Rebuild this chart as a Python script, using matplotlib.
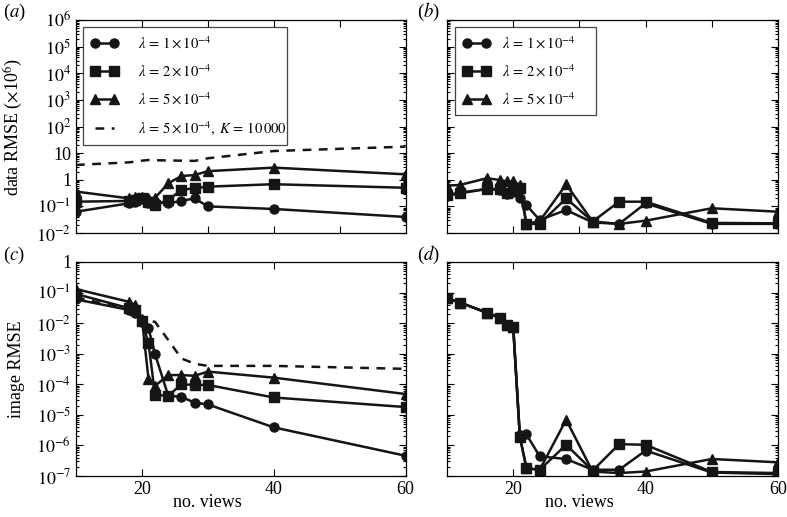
import matplotlib
matplotlib.use('Agg')
import matplotlib.pyplot as plt
import numpy as np
from matplotlib.ticker import LogLocator, FuncFormatter, NullFormatter, FixedLocator

plt.rcParams['font.family'] = ['Liberation Serif', 'DejaVu Serif']
plt.rcParams['mathtext.fontset'] = 'stix'

# ---- data ----
views_ac = [10, 18, 19, 20, 21, 22, 24, 26, 28, 30, 40, 60]
views_bd = [10, 12, 16, 18, 19, 20, 21, 22, 24, 28, 32, 36, 40, 50, 60]

# (a) data RMSE (x1e6)
a_lam1 = [0.063, 0.13, 0.15, 0.19, 0.13, 0.15, 0.13, 0.16, 0.2, 0.1, 0.08, 0.04]
a_lam2 = [0.15, 0.16, 0.17, 0.2, 0.15, 0.11, 0.17, 0.42, 0.48, 0.55, 0.68, 0.5]
a_lam5 = [0.36, 0.2, 0.23, 0.23, 0.2, 0.21, 0.74, 1.38, 1.5, 2.1, 2.85, 1.6]
a_lam5K = [3.6, 4.5, 4.8, 5.2, 5.5, 5.4, 5.3, 5.2, 5.1, 6.4, 12, 17.5]

# (b) data RMSE (x1e6)
b_lam1 = [0.25, 0.31, 0.45, 0.4, 0.3, 0.36, 0.2, 0.11, 0.031, 0.073, 0.025, 0.022, 0.13, 0.022, 0.022]
b_lam2 = [0.27, 0.33, 0.45, 0.45, 0.31, 0.42, 0.48, 0.022, 0.022, 0.2, 0.027, 0.15, 0.15, 0.024, 0.023]
b_lam5 = [0.6, 0.64, 1.14, 0.98, 0.86, 0.86, 0.64, 0.022, 0.028, 0.67, 0.027, 0.022, 0.029, 0.085, 0.063]

# (c) image RMSE
c_lam1 = [0.06, 0.027, 0.021, 0.011, 0.0068, 0.00096, 4.2e-5, 3.9e-5, 2.5e-5, 2.2e-5, 3.9e-6, 4.6e-7]
c_lam2 = [0.09, 0.031, 0.027, 0.012, 0.0022, 4.5e-5, 4.2e-5, 1e-4, 9.5e-5, 9.5e-5, 3.7e-5, 1.8e-5]
c_lam5 = [0.13, 0.05, 0.039, 0.014, 0.00015, 8.9e-5, 2e-4, 2e-4, 1.9e-4, 2.6e-4, 1.65e-4, 4.8e-5]
c_lam5K = [0.07, 0.028, 0.022, 0.015, 0.012, 0.011, 0.0028, 0.0007, 4.7e-4, 4e-4, 4e-4, 3.2e-4]

# (d) image RMSE
d_lam1 = [0.065, 0.047, 0.022, 0.015, 0.0087, 0.0077, 2.2e-6, 2.3e-6, 4.4e-7, 3.6e-7, 1.6e-7, 1.6e-7, 6.8e-7, 1.3e-7, 1.15e-7]
d_lam2 = [0.065, 0.047, 0.022, 0.015, 0.0087, 0.0077, 1.95e-6, 1.8e-7, 1.6e-7, 1.05e-6, 1.5e-7, 1.1e-6, 1.05e-6, 1.35e-7, 1.25e-7]
d_lam5 = [0.065, 0.047, 0.022, 0.015, 0.0087, 0.0077, 2e-6, 1.8e-7, 1.6e-7, 6.9e-6, 1.4e-7, 1.25e-7, 1.4e-7, 3.6e-7, 2.8e-7]

labels = [r'$\lambda\,{=}\,1\,{\times}\,10^{-4}$', r'$\lambda\,{=}\,2\,{\times}\,10^{-4}$',
          r'$\lambda\,{=}\,5\,{\times}\,10^{-4}$',
          r'$\lambda\,{=}\,5\,{\times}\,10^{-4},\; K\,{=}\,10\,000$']

ink = '#151515'
W, H = 787, 517
fig = plt.figure(figsize=(W / 100, H / 100), dpi=100)


def box(l, t, r, b):
    return [l / W, 1 - b / H, (r - l) / W, (b - t) / H]


def logfmt(v, pos):
    e = int(round(np.log10(v)))
    if e == 0:
        return '1'
    if e == 1:
        return '10'
    return r'$10^{%d}$' % e


def style(ax, ylo, yhi, xt, show_x, show_y):
    ax.set_yscale('log')
    ax.set_xlim(10, 60)
    ax.set_ylim(ylo, yhi)
    ax.yaxis.set_major_locator(LogLocator(base=10, numticks=30))
    ax.yaxis.set_minor_locator(LogLocator(base=10, subs=np.arange(2, 10), numticks=30))
    ax.yaxis.set_major_formatter(FuncFormatter(logfmt) if show_y else NullFormatter())
    ax.yaxis.set_minor_formatter(NullFormatter())
    ax.xaxis.set_major_locator(FixedLocator(xt))
    if not show_x:
        ax.set_xticklabels([])
    ax.tick_params(which='both', direction='in', top=True, right=True, labelsize=13, width=0.8)
    ax.tick_params(which='major', length=5)
    ax.tick_params(which='minor', length=2.5)
    for s in ax.spines.values():
        s.set_linewidth(0.9)


def draw(ax, x, ys, dashed=None):
    mk = ['o', 's', '^']
    for y, m, lab in zip(ys, mk, labels):
        ax.plot(x, y, color=ink, lw=1.8, marker=m, ms=6.5, label=lab)
    if dashed is not None:
        ax.plot(x, dashed, color=ink, lw=1.8, ls=(0, (3.5, 3)), label=labels[3])


ax_a = fig.add_axes(box(76, 20, 405.5, 233))
ax_b = fig.add_axes(box(447, 20, 778, 233))
ax_c = fig.add_axes(box(76, 262, 405.5, 476))
ax_d = fig.add_axes(box(447, 262, 778, 476))

draw(ax_a, views_ac, [a_lam1, a_lam2, a_lam5], a_lam5K)
draw(ax_b, views_bd, [b_lam1, b_lam2, b_lam5])
draw(ax_c, views_ac, [c_lam1, c_lam2, c_lam5], c_lam5K)
draw(ax_d, views_bd, [d_lam1, d_lam2, d_lam5])

style(ax_a, 1e-2, 1e6, [20, 30, 40, 50], False, True)
style(ax_b, 1e-2, 1e6, [20, 30, 40, 50], False, False)
style(ax_c, 1e-7, 1, [20, 40, 60], True, True)
style(ax_d, 1e-7, 1, [20, 40, 60], True, False)

ax_a.set_ylabel(r'data RMSE ($\times$10$^{6}$)', fontsize=13)
ax_c.set_ylabel('image RMSE', fontsize=13)
ax_a.yaxis.set_label_coords(-0.155, 0.5)
ax_c.yaxis.set_label_coords(-0.155, 0.5)
for ax in (ax_c, ax_d):
    ax.set_xlabel('no. views', fontsize=13)
    ax.xaxis.set_label_coords(0.4, -0.085)

leg_kw = dict(frameon=True, fancybox=False, edgecolor=ink, fontsize=10.5,
              numpoints=2, handlelength=1.9, labelspacing=0.8,
              borderpad=0.55, borderaxespad=0, loc='upper left', mode='expand')
la = ax_a.legend(bbox_to_anchor=(0.021, 0.5, 0.62, 0.467), handletextpad=1.3, **leg_kw)
lb = ax_b.legend(bbox_to_anchor=(0.024, 0.5, 0.426, 0.467), handletextpad=0.8, **leg_kw)
for lg in (la, lb):
    lg.get_frame().set_linewidth(0.9)

for lab, px, py in [('a', 3, 12), ('b', 417, 12), ('c', 3, 255), ('d', 417, 255)]:
    fig.text(px / W, 1 - py / H, '($%s$)' % lab, fontsize=13.5, ha='left', va='center')

fig.savefig('out.png', dpi=100)
